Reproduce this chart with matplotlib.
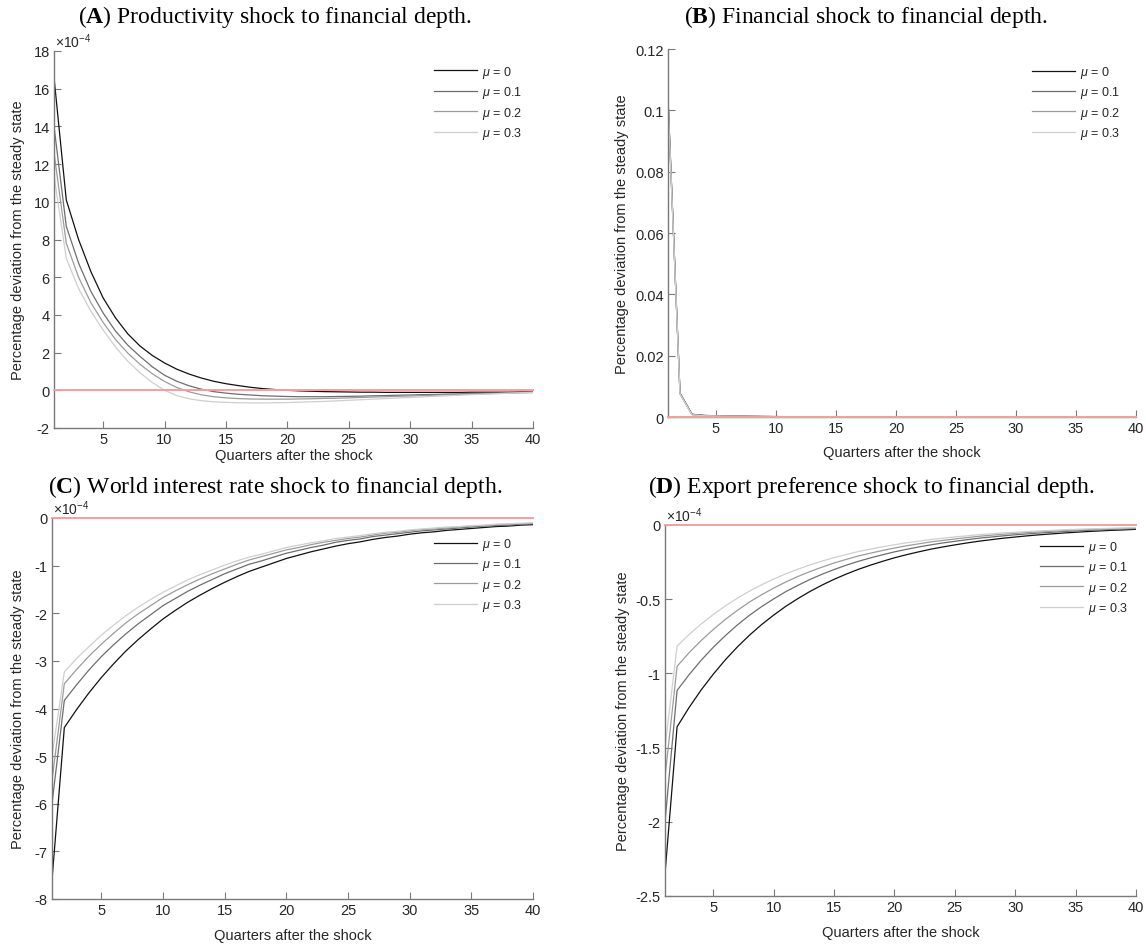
import matplotlib
matplotlib.use("Agg")
import matplotlib.pyplot as plt
import numpy as np

plt.rcParams['font.family'] = ['Liberation Sans', 'DejaVu Sans']
plt.rcParams['mathtext.fontset'] = 'custom'
plt.rcParams['mathtext.rm'] = 'Liberation Sans'
plt.rcParams['mathtext.it'] = 'Liberation Sans:italic'
plt.rcParams['mathtext.bf'] = 'Liberation Serif:bold'
plt.rcParams['axes.unicode_minus'] = False

quarters = list(range(1, 41))
mu_labels = [r'$\mu$ = 0', r'$\mu$ = 0.1', r'$\mu$ = 0.2', r'$\mu$ = 0.3']

# Panel A (units of 1e-4)
A_mu0 = [16.6, 10.1, 8.0, 6.3, 4.9, 3.85, 3.0, 2.35, 1.85, 1.45, 1.12, 0.86, 0.65, 0.48, 0.35, 0.25, 0.16, 0.09, 0.04, 0.0,
         -0.03, -0.05, -0.07, -0.08, -0.09, -0.10, -0.10, -0.11, -0.11, -0.11, -0.11, -0.11, -0.11, -0.11, -0.10, -0.10, -0.10, -0.10, -0.09, -0.09]
A_mu1 = [14.0, 8.7, 6.75, 5.25, 4.1, 3.15, 2.4, 1.8, 1.25, 0.8, 0.48, 0.24, 0.06, -0.07, -0.15, -0.21, -0.25, -0.29, -0.31, -0.33,
         -0.34, -0.34, -0.34, -0.33, -0.32, -0.31, -0.29, -0.28, -0.26, -0.25, -0.23, -0.22, -0.20, -0.19, -0.17, -0.16, -0.15, -0.13, -0.12, -0.11]
A_mu2 = [12.6, 7.8, 6.0, 4.65, 3.6, 2.7, 1.98, 1.38, 0.88, 0.47, 0.15, -0.08, -0.24, -0.34, -0.40, -0.44, -0.46, -0.47, -0.47, -0.47,
         -0.46, -0.45, -0.43, -0.42, -0.40, -0.38, -0.36, -0.34, -0.32, -0.30, -0.28, -0.26, -0.24, -0.22, -0.20, -0.18, -0.17, -0.15, -0.13, -0.12]
A_mu3 = [11.4, 7.0, 5.4, 4.2, 3.2, 2.3, 1.55, 0.93, 0.42, 0.0, -0.28, -0.45, -0.55, -0.61, -0.64, -0.66, -0.67, -0.67, -0.66, -0.65,
         -0.63, -0.61, -0.59, -0.56, -0.53, -0.50, -0.47, -0.44, -0.41, -0.38, -0.35, -0.32, -0.29, -0.26, -0.23, -0.21, -0.18, -0.16, -0.13, -0.11]

# Panel B (actual units)
B_mu0 = [0.104, 0.0078, 0.0009, 0.0005, 0.0004, 0.00032, 0.00026, 0.00021, 0.00017, 0.00014, 0.00011, 0.00009, 0.00007, 0.00006,
         0.00005, 0.00004, 0.00003, 0.00003, 0.00002, 0.00002, 0.00002, 0.00001, 0.00001, 0.00001, 0.00001, 0.00001, 0.00001, 0.0,
         0.0, 0.0, 0.0, 0.0, 0.0, 0.0, 0.0, 0.0, 0.0, 0.0, 0.0, 0.0]
B_mu1 = [0.1035, 0.0077, 0.0008, 0.0005, 0.0004, 0.0003, 0.00025, 0.0002, 0.00016, 0.00013, 0.0001, 0.00008, 0.00007, 0.00005,
         0.00004, 0.00004, 0.00003, 0.00002, 0.00002, 0.00002, 0.00001, 0.00001, 0.00001, 0.00001, 0.00001, 0.0, 0.0, 0.0,
         0.0, 0.0, 0.0, 0.0, 0.0, 0.0, 0.0, 0.0, 0.0, 0.0, 0.0, 0.0]
B_mu2 = [0.103, 0.0076, 0.0008, 0.0004, 0.00035, 0.00028, 0.00023, 0.00018, 0.00015, 0.00012, 0.0001, 0.00008, 0.00006, 0.00005,
         0.00004, 0.00003, 0.00003, 0.00002, 0.00002, 0.00001, 0.00001, 0.00001, 0.00001, 0.00001, 0.0, 0.0, 0.0, 0.0,
         0.0, 0.0, 0.0, 0.0, 0.0, 0.0, 0.0, 0.0, 0.0, 0.0, 0.0, 0.0]
B_mu3 = [0.1025, 0.0075, 0.0007, 0.0004, 0.0003, 0.00026, 0.00021, 0.00017, 0.00014, 0.00011, 0.00009, 0.00007, 0.00006, 0.00005,
         0.00004, 0.00003, 0.00002, 0.00002, 0.00002, 0.00001, 0.00001, 0.00001, 0.00001, 0.0, 0.0, 0.0, 0.0, 0.0,
         0.0, 0.0, 0.0, 0.0, 0.0, 0.0, 0.0, 0.0, 0.0, 0.0, 0.0, 0.0]

# Panel C (units of 1e-4)
C_mu0 = [-7.6, -4.40, -4.02, -3.67, -3.35, -3.06, -2.79, -2.55, -2.33, -2.12, -1.94, -1.77, -1.62, -1.48, -1.35, -1.23, -1.12, -1.03,
         -0.94, -0.85, -0.78, -0.71, -0.65, -0.59, -0.54, -0.50, -0.45, -0.41, -0.38, -0.34, -0.31, -0.29, -0.26, -0.24, -0.22, -0.20,
         -0.18, -0.17, -0.15, -0.14]
C_mu1 = [-6.0, -3.83, -3.50, -3.19, -2.91, -2.66, -2.43, -2.22, -2.03, -1.84, -1.69, -1.54, -1.41, -1.29, -1.17, -1.07, -0.97, -0.90,
         -0.82, -0.74, -0.68, -0.62, -0.57, -0.51, -0.47, -0.44, -0.39, -0.36, -0.33, -0.30, -0.27, -0.25, -0.23, -0.21, -0.19, -0.17,
         -0.16, -0.15, -0.13, -0.12]
C_mu2 = [-5.5, -3.48, -3.18, -2.90, -2.65, -2.42, -2.20, -2.01, -1.84, -1.67, -1.53, -1.40, -1.28, -1.17, -1.07, -0.97, -0.88, -0.81,
         -0.74, -0.67, -0.62, -0.56, -0.51, -0.47, -0.43, -0.40, -0.36, -0.32, -0.30, -0.27, -0.24, -0.23, -0.21, -0.19, -0.17, -0.16,
         -0.14, -0.13, -0.12, -0.11]
C_mu3 = [-5.0, -3.23, -2.95, -2.70, -2.46, -2.25, -2.05, -1.87, -1.71, -1.56, -1.43, -1.30, -1.19, -1.09, -0.99, -0.90, -0.82, -0.76,
         -0.69, -0.62, -0.57, -0.52, -0.48, -0.43, -0.40, -0.37, -0.33, -0.30, -0.28, -0.25, -0.23, -0.21, -0.19, -0.18, -0.16, -0.15,
         -0.13, -0.12, -0.11, -0.10]

# Panel D (units of 1e-4)
D_mu0 = [-2.35, -1.360, -1.229, -1.111, -1.005, -0.908, -0.821, -0.742, -0.671, -0.607, -0.548, -0.496, -0.448, -0.405, -0.366,
         -0.331, -0.299, -0.271, -0.245, -0.221, -0.200, -0.181, -0.163, -0.148, -0.134, -0.121, -0.109, -0.099, -0.089, -0.081,
         -0.073, -0.066, -0.060, -0.054, -0.049, -0.044, -0.040, -0.036, -0.033, -0.029]
D_mu1 = [-2.0, -1.115, -1.008, -0.911, -0.824, -0.745, -0.673, -0.608, -0.550, -0.498, -0.449, -0.407, -0.367, -0.332, -0.300,
         -0.271, -0.245, -0.222, -0.201, -0.181, -0.164, -0.148, -0.134, -0.121, -0.110, -0.099, -0.089, -0.081, -0.073, -0.066,
         -0.060, -0.054, -0.049, -0.044, -0.040, -0.036, -0.033, -0.030, -0.027, -0.024]
D_mu2 = [-1.7, -0.952, -0.860, -0.778, -0.704, -0.636, -0.575, -0.519, -0.470, -0.425, -0.384, -0.347, -0.314, -0.284, -0.256,
         -0.232, -0.209, -0.190, -0.172, -0.155, -0.140, -0.127, -0.114, -0.104, -0.094, -0.085, -0.076, -0.069, -0.062, -0.057,
         -0.051, -0.046, -0.042, -0.038, -0.034, -0.031, -0.028, -0.025, -0.023, -0.020]
D_mu3 = [-1.5, -0.816, -0.737, -0.667, -0.603, -0.545, -0.493, -0.445, -0.403, -0.364, -0.329, -0.298, -0.269, -0.243, -0.220,
         -0.199, -0.179, -0.163, -0.147, -0.133, -0.120, -0.109, -0.098, -0.089, -0.080, -0.073, -0.065, -0.059, -0.053, -0.049,
         -0.044, -0.040, -0.036, -0.032, -0.029, -0.026, -0.024, -0.022, -0.020, -0.017]

titles = ['A', 'B', 'C', 'D']
title_rest = [' Productivity shock to financial depth.',
              ' Financial shock to financial depth.',
              ' World interest rate shock to financial depth.',
              ' Export preference shock to financial depth.']
ytick_vals = [[-2, 0, 2, 4, 6, 8, 10, 12, 14, 16, 18],
              [0, 0.02, 0.04, 0.06, 0.08, 0.1, 0.12],
              [-8, -7, -6, -5, -4, -3, -2, -1, 0],
              [-2.5, -2, -1.5, -1, -0.5, 0]]
ytick_labels = [['-2', '0', '2', '4', '6', '8', '10', '12', '14', '16', '18'],
                ['0', '0.02', '0.04', '0.06', '0.08', '0.1', '0.12'],
                ['-8', '-7', '-6', '-5', '-4', '-3', '-2', '-1', '0'],
                ['-2.5', '-2', '-1.5', '-1', '-0.5', '0']]
ylims = [(-2, 18), (0, 0.12), (-8, 0), (-2.5, 0)]
xticks = [5, 10, 15, 20, 25, 30, 35, 40]
series = [[A_mu0, A_mu1, A_mu2, A_mu3], [B_mu0, B_mu1, B_mu2, B_mu3],
          [C_mu0, C_mu1, C_mu2, C_mu3], [D_mu0, D_mu1, D_mu2, D_mu3]]
has_exp = [True, False, True, True]

W, H = 1146, 945
fig = plt.figure(figsize=(W / 100, H / 100), dpi=100)

# axes boxes in pixels: left, right, top, bottom
boxes = [(54, 533, 52, 429), (668, 1136, 50, 418), (52, 533, 519, 900), (665, 1136, 526, 897)]
title_pos = [(275, 17), (866, 17), (275, 487), (872, 487)]
ylabel_x = [-0.061, -0.083, -0.056, -0.074]
xlabel_y = [-0.054, -0.076, -0.076, -0.078]
legend_anchor = [(0.977, 0.966), (0.966, 0.959), (0.977, 0.953), (0.983, 0.962)]

colors = ['#111111', '#6e6e6e', '#9c9c9c', '#cfcfcf']
axis_col = '#7a7a7a'
text_col = '#262626'

for i in range(4):
    l, r, t, b = boxes[i]
    ax = fig.add_axes([l / W, 1 - b / H, (r - l) / W, (b - t) / H])
    ax.axhline(0, color='#f2a0a0', lw=1.4, zorder=3, clip_on=False)
    for j in range(4):
        ax.plot(quarters, series[i][j], color=colors[j], lw=0.9, label=mu_labels[j], zorder=2)
    ax.set_xlim(1, 40)
    ax.set_ylim(*ylims[i])
    ax.set_xticks(xticks)
    ax.set_xticklabels([str(v) for v in xticks])
    ax.set_yticks(ytick_vals[i])
    ax.set_yticklabels(ytick_labels[i])
    for s in ['top', 'right']:
        ax.spines[s].set_visible(False)
    for s in ['left', 'bottom']:
        ax.spines[s].set_color(axis_col)
        ax.spines[s].set_linewidth(1.0)
    ax.tick_params(direction='in', length=5, width=0.8, color=axis_col,
                   labelsize=10.5, labelcolor=text_col, pad=3)
    ax.set_ylabel('Percentage deviation from the steady state', fontsize=10.5, color=text_col)
    ax.yaxis.set_label_coords(ylabel_x[i], 0.5)
    ax.set_xlabel('Quarters after the shock', fontsize=10.5, color=text_col)
    ax.xaxis.set_label_coords(0.5, xlabel_y[i])
    if has_exp[i]:
        ax.text(0.003, 1.003, r'×10$^{-4}$', transform=ax.transAxes, fontsize=10,
                color=text_col, ha='left', va='bottom')
    leg = ax.legend(loc='upper right', bbox_to_anchor=legend_anchor[i], frameon=False,
                    fontsize=9, handlelength=3.4, handletextpad=0.4, labelspacing=0.35,
                    borderaxespad=0, borderpad=0)
    for txt in leg.get_texts():
        txt.set_color(text_col)
    tx, ty = title_pos[i]
    fig.text(tx / W, 1 - ty / H, r'($\mathbf{' + titles[i] + r'}$)' + title_rest[i],
             fontsize=17, family='Liberation Serif', ha='center', va='center', color='black')

fig.savefig('out.png', dpi=100)
